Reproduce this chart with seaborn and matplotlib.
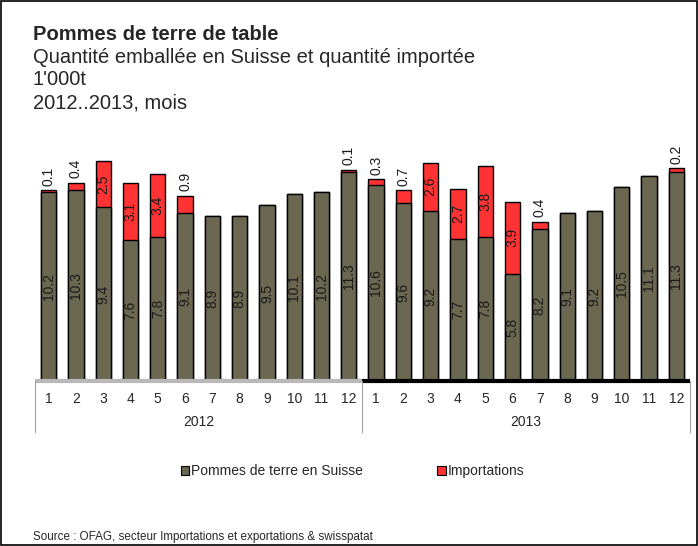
import matplotlib
matplotlib.use("Agg")
import matplotlib.pyplot as plt
import seaborn as sns
import pandas as pd
import numpy as np
from matplotlib.patches import Patch, Rectangle

sns.set_style("white")
plt.rcParams['font.family'] = ['Liberation Sans', 'DejaVu Sans']

years = ["2012", "2013"]
months = [str(m) for m in range(1, 13)]
suisse_2012 = [10.2, 10.3, 9.4, 7.6, 7.8, 9.1, 8.9, 8.9, 9.5, 10.1, 10.2, 11.3]
import_2012 = [0.1, 0.4, 2.5, 3.1, 3.4, 0.9, 0.0, 0.0, 0.0, 0.0, 0.0, 0.1]
suisse_2013 = [10.6, 9.6, 9.2, 7.7, 7.8, 5.8, 8.2, 9.1, 9.2, 10.5, 11.1, 11.3]
import_2013 = [0.3, 0.7, 2.6, 2.7, 3.8, 3.9, 0.4, 0.0, 0.0, 0.0, 0.0, 0.2]

suisse = suisse_2012 + suisse_2013
imports = import_2012 + import_2013
df = pd.DataFrame({
    "pos": list(range(24)),
    "suisse": suisse,
    "imports": imports,
})
df["total"] = df["suisse"] + df["imports"]

GREY = "#6b6751"
RED = "#ff3333"
LBL = 10

fig = plt.figure(figsize=(6.98, 5.46), dpi=100)
ax = fig.add_axes([0.0501, 0.3022, 0.9384, 0.4744])

sns.barplot(data=df, x="pos", y="total", color=RED, width=0.56,
            edgecolor="black", linewidth=1.0, saturation=1, ax=ax)
sns.barplot(data=df, x="pos", y="suisse", color=GREY, width=0.56,
            edgecolor="black", linewidth=1.0, saturation=1, ax=ax)

ax.set_ylim(0, 14)
ax.set_xlim(-0.5, 23.5)
for s in ax.spines.values():
    s.set_visible(False)
ax.set_yticks([])
ax.set_xlabel("")
ax.set_ylabel("")
ax.set_xticks(range(24))
ax.set_xticklabels(months + months, fontsize=LBL)
ax.tick_params(axis="x", length=0, pad=8)

# labels
for i, (s, im) in enumerate(zip(suisse, imports)):
    ax.text(i, s / 2, f"{s:.1f}", rotation=90, ha="center", va="center",
            fontsize=LBL, color="#1a1a1a")
    if im >= 2.0:
        ax.text(i, s + im / 2, f"{im:.1f}", rotation=90, ha="center",
                va="center", fontsize=LBL, color="#1a1a1a")
    elif im > 0:
        ax.text(i, s + im + 0.25, f"{im:.1f}", rotation=90, ha="center",
                va="bottom", fontsize=LBL, color="#1a1a1a")

# year axis lines
tr = ax.get_xaxis_transform()
ax.plot([-0.5, 11.5], [0, 0], transform=tr, color="#b8b8b8", lw=3,
        clip_on=False, solid_capstyle="butt")
ax.plot([11.5, 23.5], [0, 0], transform=tr, color="black", lw=3,
        clip_on=False, solid_capstyle="butt")
for xv in [-0.5, 11.5, 23.5]:
    ax.plot([xv, xv], [0, -0.197], transform=tr, color="#a0a0a0", lw=0.8,
            clip_on=False)
for k, y in enumerate(years):
    ax.text(5.5 + 12 * k, -0.158, y, transform=tr, ha="center", va="center",
            fontsize=LBL)

# titles
TS = 14.5
fig.text(0.047, 0.936, "Pommes de terre de table", fontsize=TS,
         fontweight="bold", va="center")
fig.text(0.047, 0.895, "Quantité emballée en Suisse et quantité importée",
         fontsize=TS, va="center")
fig.text(0.047, 0.855, "1'000t", fontsize=TS, va="center")
fig.text(0.047, 0.812, "2012..2013, mois", fontsize=TS, va="center")

# legend
handles = [Patch(facecolor=GREY, edgecolor="black", lw=0.8),
           Patch(facecolor=RED, edgecolor="black", lw=0.8)]
fig.legend(handles, ["Pommes de terre en Suisse", "Importations"],
           loc="center", bbox_to_anchor=(0.505, 0.137), ncol=2, frameon=False,
           fontsize=10, handlelength=0.6, handleheight=0.6, handletextpad=0.15,
           columnspacing=5.35)

fig.text(0.047, 0.017, "Source : OFAG, secteur Importations et exportations & swisspatat",
         fontsize=8.4, va="center")

fig.patches.append(Rectangle((0.001, 0.002), 0.997, 0.996, transform=fig.transFigure,
                             fill=False, edgecolor="black", lw=1.2))

fig.savefig("out.png", dpi=100)
